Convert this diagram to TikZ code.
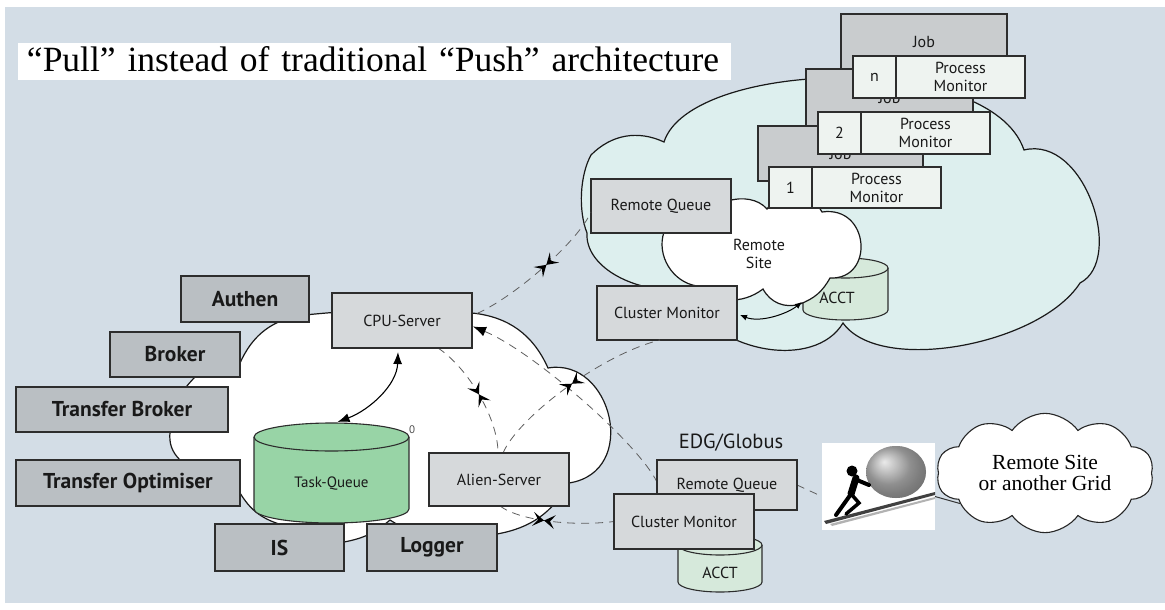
\documentclass[tikz,border=0pt]{standalone}
\usepackage{fontspec}
\newfontfamily\labfont{PT Sans}
\newfontfamily\serfont{Liberation Serif}
\usetikzlibrary{arrows.meta,decorations.markings,shapes.symbols}

\definecolor{bg}{RGB}{211,221,230}
\definecolor{darkfill}{RGB}{186,191,195}
\definecolor{lightfill}{RGB}{214,217,219}
\definecolor{jobfill}{RGB}{201,204,206}
\definecolor{pmfill}{RGB}{238,243,240}
\definecolor{tqfill}{RGB}{152,212,166}
\definecolor{acctfill}{RGB}{214,233,219}
\definecolor{sitefill}{RGB}{221,239,238}
\definecolor{edge}{RGB}{45,45,45}
\definecolor{dashc}{RGB}{95,95,95}

% cylinder: fill, left x, right x, top centre y, bottom centre y, y radius
\newcommand\drum[6]{%
  \pgfmathsetmacro\drumcx{(#2+#3)/2}%
  \pgfmathsetmacro\drumrx{(#3-#2)/2}%
  \filldraw[fill=#1, draw=edge, line width=1.1pt]
    (#2,#4) -- (#2,#5)
    .. controls (#2,#5+0.5523*#6) and (\drumcx-0.5523*\drumrx,#5+#6) .. (\drumcx,#5+#6)
    .. controls (\drumcx+0.5523*\drumrx,#5+#6) and (#3,#5+0.5523*#6) .. (#3,#5)
    -- (#3,#4);
  \filldraw[fill=#1, draw=edge, line width=1.1pt] (\drumcx,#4) ellipse [x radius=\drumrx, y radius=#6];
}

\tikzset{
  every node/.style={inner sep=0pt, outer sep=0pt},
  box/.style={draw=edge, line width=1.1pt, text=black!90},
  darkbox/.style={box, fill=darkfill, font=\labfont\bfseries\fontsize{21.5}{24}\selectfont},
  lightbox/.style={box, fill=lightfill, font=\labfont\fontsize{16}{17}\selectfont},
  jobbox/.style={box, fill=jobfill, font=\labfont\fontsize{16}{17}\selectfont},
  pmcell/.style={box, fill=pmfill, font=\labfont\fontsize{16}{18}\selectfont, align=center},
  smalllabel/.style={text=black!90, font=\labfont\fontsize{16}{18}\selectfont, align=center},
  cloudline/.style={draw=black!90, line width=1.2pt},
  pullline/.style={draw=dashc, line width=0.8pt, dash pattern=on 8pt off 6pt},
  solidtip/.style={line width=1.1pt, {Latex[length=12pt,width=9pt]}-{Latex[length=12pt,width=9pt]}},
  xmark/.style={postaction={decorate, decoration={markings, mark=at position #1 with {
      \fill[black] (0pt,0pt) -- (-11pt,7pt) -- (-6pt,0pt) -- (-11pt,-7pt) -- cycle;
      \fill[black] (0pt,0pt) -- (11pt,7pt) -- (6pt,0pt) -- (11pt,-7pt) -- cycle;}}}},
}

\begin{document}
\begin{tikzpicture}[x=1pt,y=-1pt]
\useasboundingbox (0,0) rectangle (1165,610);
\fill[white] (0,0) rectangle (1165,610);
\fill[bg] (5,7) rectangle (1165,603);

% ---------------- remote site (upper right) ----------------
\filldraw[fill=sitefill, cloudline]
  (591,155) to[bend left=35] (664,142)
  .. controls (690,60) and (990,50) .. (1024,150)
  .. controls (1085,135) and (1125,260) .. (1080,283)
  .. controls (1040,345) and (880,375) .. (843,323)
  .. controls (815,370) and (715,355) .. (680,290)
  .. controls (630,292) and (585,265) .. (587,233)
  .. controls (578,210) and (580,175) .. (591,155) -- cycle;

\drum{acctfill}{803}{888}{268}{310}{10}
\node[minimum width=85pt, minimum height=62pt] (acct) at (845.5,289) {};

\filldraw[fill=white, cloudline]
  (700,228) to[bend left=65] (767,209) to[bend left=60] (822,212)
  .. controls (870,205) and (875,280) .. (830,278)
  to[bend left=20] (800,304) to[bend left=40] (763,289)
  to[bend left=40] (697,286) to[bend left=50] (664,232)
  to[bend left=20] (700,228) -- cycle;

% job slots
\node[jobbox, minimum width=166pt, minimum height=56pt] (jobn) at (924,42) {Job};
\node[jobbox, minimum width=167pt, minimum height=57pt] (job2) at (889.5,97.5) {Job};
\node[jobbox, minimum width=165pt, minimum height=55pt] (job1) at (840.5,153.5) {Job};

\node[pmcell, minimum width=43pt, minimum height=42pt] (pmnid) at (874.5,77) {n};
\node[pmcell, minimum width=129pt, minimum height=42pt, anchor=west] (pmn) at (pmnid.east) {Process\\Monitor};
\node[pmcell, minimum width=43pt, minimum height=42pt] (pm2id) at (839.5,133) {2};
\node[pmcell, minimum width=129pt, minimum height=42pt, anchor=west] (pm2) at (pm2id.east) {Process\\Monitor};
\node[pmcell, minimum width=43pt, minimum height=41pt] (pm1id) at (790.5,187.5) {1};
\node[pmcell, minimum width=129pt, minimum height=41pt, anchor=west] (pm1) at (pm1id.east) {Process\\Monitor};

\node[lightbox, minimum width=140pt, minimum height=54pt] (rq) at (661,206) {Remote Queue};
\node[lightbox, minimum width=140pt, minimum height=54pt] (cm) at (667,313) {Cluster Monitor};
\node[smalllabel] (rsitein) at (759,254) {Remote\\Site};
\node[smalllabel] (acctlabel) at (837,298) {ACCT};
\draw[line width=1pt, {Latex[length=7pt,width=6pt]}-{Latex[length=7pt,width=6pt]}]
  ([shift={(3,2)}]cm.east) .. controls +(20,8) and +(-15,12) .. ([shift={(-1,13)}]acct.west);

% ---------------- central AliEn site ----------------
\filldraw[fill=white, cloudline]
  (295,316) to[bend left=5] (472,313) to[bend left=30] (548,368)
  .. controls (612,357) and (640,472) .. (569,483)
  to[bend left=25] (497,534) to[bend left=25] (390,520)
  to[bend left=15] (344,542) to[bend left=25] (279,524)
  to[bend left=20] (240,493) to[bend left=20] (180,460)
  to[bend left=25] (170,432) to[bend left=20] (195,377)
  to[bend left=20] (240,363) to[bend left=25] (295,316) -- cycle;

\node[lightbox, minimum width=140pt, minimum height=55pt] (cpu) at (402,320.5) {CPU-Server};
\node[lightbox, minimum width=140pt, minimum height=53pt] (alien) at (499,479.5) {Alien-Server};
\node[lightbox, minimum width=140pt, minimum height=50pt] (erq) at (727,485) {Remote Queue};
\node[minimum width=140pt, minimum height=55pt] (ecm) at (684,521.5) {};
\node[minimum width=113pt, minimum height=87pt] (sis) at (878.5,486.5) {};

% pull connections
\draw[pullline, xmark=0.55] ([shift={(5,-7)}]cpu.east) .. controls +(40,-18) and +(-12,28) .. ([shift={(0,6)}]rq.west);
\draw[pullline, {Latex[length=13pt,width=10pt,black]}-] ([shift={(1,6)}]cpu.east) .. controls +(60,25) and +(-20,-40) .. ([shift={(0,-3)}]erq.west);
\draw[pullline, xmark=0.5] ([shift={(4,0)}]alien.north) .. controls +(15,-35) and +(-60,15) .. ([shift={(-7,0)}]cm.south);
\draw[pullline, xmark=0.5] ([shift={(36,0)}]cpu.south) .. controls +(30,20) and +(0,-35) .. ([shift={(-1,0)}]alien.north);
\draw[pullline, xmark=0.4] ([shift={(1,0)}]alien.south) .. controls +(20,15) and +(-40,5) .. (ecm.west);
\draw[pullline] (erq.east) -- ([shift={(0,10)}]sis.west);

% redraw the server boxes over the dashed lines
\node[lightbox, minimum width=140pt, minimum height=55pt] at (cpu) {CPU-Server};
\node[lightbox, minimum width=140pt, minimum height=53pt] at (alien) {Alien-Server};

\node[darkbox, minimum width=128pt, minimum height=46pt] (authen) at (245,299) {Authen};
\node[darkbox, minimum width=130pt, minimum height=45pt] (broker) at (175,354.5) {Broker};
\node[darkbox, minimum width=212pt, minimum height=45pt] (tbroker) at (122,409.5) {Transfer Broker};
\node[darkbox, minimum width=224pt, minimum height=46pt] (topt) at (128,483) {Transfer Optimiser};

\drum{tqfill}{254}{409}{437}{509}{14}
\node[minimum width=155pt, minimum height=100pt] (tq) at (331.5,473) {};
\node[text=black!90, font=\labfont\fontsize{15}{17}\selectfont] at ([shift={(0,11)}]tq.center) {Task-Queue};
\node[text=black!70, font=\labfont\fontsize{11}{12}\selectfont] (zero) at (412,430) {0};

\node[darkbox, minimum width=129pt, minimum height=47pt] (is) at (279.5,547.5) {IS};
\node[darkbox, minimum width=130pt, minimum height=47pt] (logger) at (432,547.5) {Logger};

\draw[solidtip] ([shift={(-4,4)}]cpu.south) .. controls +(-1,33) and +(32,-12) .. ([shift={(6,-1)}]tq.north);

% ---------------- EDG / Globus ----------------
\node[text=black!90, font=\labfont\fontsize{20.5}{22}\selectfont] (edg) at (731,443) {EDG/Globus};
\drum{acctfill}{678}{762}{545}{582}{10}
\node[minimum width=84pt, minimum height=47pt] (eacct) at (720,568) {};
\node[smalllabel] at (720,573) {ACCT};
\node[lightbox, minimum width=140pt, minimum height=50pt] at (erq) {Remote Queue};
\node[lightbox, minimum width=140pt, minimum height=55pt] at (ecm) {Cluster Monitor};

% pushing the boulder up the hill
\node[fill=white, minimum width=113pt, minimum height=87pt] at (sis) {};
\fill[black!75] (824,521) -- (935,492) -- (935,495) -- (826,524) -- cycle;
\fill[black!30] (830,524) -- (935,497) -- (935,499) -- (832,526) -- cycle;
\shade[ball color=black!45] (896,472) ellipse [x radius=30, y radius=26];
\fill[black!10, opacity=0.35] (896,472) ellipse [x radius=30, y radius=26];
\fill[black] (852,471) circle [radius=5.5];
\draw[black, line width=7pt, line cap=round] (856,478) -- (851,494);
\draw[black, line width=4pt, line cap=round] (857,480) -- (869,485);
\draw[black, line width=4pt, line cap=round] (851,494) -- (836,515);
\draw[black, line width=3.5pt, line cap=round] (852,495) -- (859,503) -- (846,514);

\node[cloud, cloud puffs=10, cloud puff arc=110, aspect=2, draw=black!85, line width=1.1pt,
      fill=white, minimum width=217pt, minimum height=113pt, align=center,
      font=\serfont\fontsize{21.5}{21}\selectfont] (rsite) at (1045,473) {Remote Site\\or another Grid};
\draw[black!80, line width=1pt] ([shift={(0,10)}]sis.east) -- (rsite.200);

% ---------------- heading ----------------
\node[fill=white, anchor=north west, text width=695pt, inner xsep=9pt, inner ysep=1pt,
      text height=27pt, text depth=8pt, align=left,
      font=\serfont\fontsize{35.5}{36}\selectfont] (title) at (18,43)
      {“Pull” instead of traditional “Push” architecture};
\end{tikzpicture}
\end{document}
